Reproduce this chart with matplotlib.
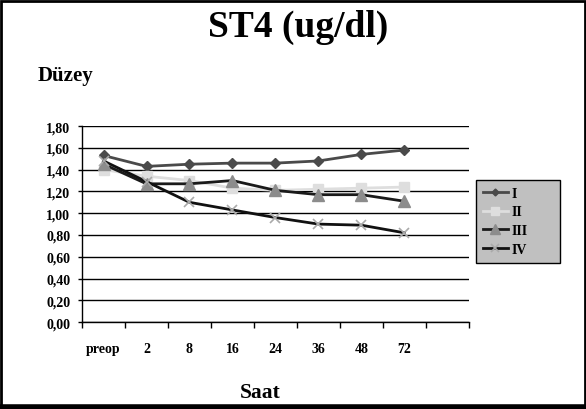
"""ST4 (ug/dl) line chart."""

import matplotlib
from matplotlib import pyplot as plt
from matplotlib.lines import Line2D
from matplotlib.patches import Rectangle

matplotlib.use("Agg")
plt.rcParams["font.family"] = ["Liberation Serif", "DejaVu Serif"]
plt.rcParams["font.weight"] = "bold"

hours = ["preop", "2", "8", "16", "24", "36", "48", "72"]
series_names = ["I", "II", "III", "IV"]
group_i = [1.53, 1.43, 1.45, 1.46, 1.46, 1.48, 1.54, 1.58]
group_ii = [1.40, 1.34, 1.30, 1.23, 1.21, 1.22, 1.23, 1.24]
group_iii = [1.45, 1.27, 1.27, 1.30, 1.21, 1.17, 1.17, 1.11]
group_iv = [1.48, 1.29, 1.10, 1.03, 0.96, 0.90, 0.89, 0.82]
y_ticks = [0.0, 0.2, 0.4, 0.6, 0.8, 1.0, 1.2, 1.4, 1.6, 1.8]

fig = plt.figure(figsize=(5.86, 4.10), dpi=100)
ax = fig.add_axes([0.140, 0.212, 0.660, 0.478])

x = list(range(len(hours)))
styles = [
    dict(color="#4a4a4a", marker="D", markersize=5, markerfacecolor="#4a4a4a",
         markeredgecolor="#4a4a4a"),
    dict(color="#dedede", marker="s", markersize=7, markerfacecolor="#dedede",
         markeredgecolor="#dedede"),
    dict(color="#1a1a1a", marker="^", markersize=8, markerfacecolor="#8c8c8c",
         markeredgecolor="#8c8c8c"),
    dict(color="#111111", marker="x", markersize=7, markeredgecolor="#aaaaaa",
         markeredgewidth=1.2),
]
for values, name, st in zip([group_i, group_ii, group_iii, group_iv], series_names, styles):
    ax.plot(x, values, linewidth=2, label=name, **st)

ax.set_xlim(-0.5, len(hours) + 0.5)
ax.set_ylim(0, 1.8)
ax.set_yticks(y_ticks)
ax.set_yticklabels([f"{v:.2f}".replace(".", ",") for v in y_ticks], fontsize=10, fontweight="bold")
ax.set_xticks(x)
ax.set_xticklabels(hours, fontsize=10, fontweight="bold")
ax.set_xticks([i - 0.5 for i in range(len(hours) + 2)], minor=True)
ax.tick_params(axis="x", which="major", length=0, pad=14)
ax.tick_params(axis="x", which="minor", length=4, width=1, direction="out")
ax.tick_params(axis="y", length=3, width=1, direction="out", pad=5.5)
ax.grid(axis="y", color="black", linewidth=1)
for side in ["top", "right"]:
    ax.spines[side].set_visible(False)
ax.spines["left"].set_linewidth(1)
ax.spines["bottom"].set_linewidth(1)

# smaller markers in the legend, like the original
handles = [Line2D([], [], linewidth=2, **{**st, "markersize": st["markersize"] - 1.5})
           for st in styles]
leg = ax.legend(handles, series_names, loc="upper left",
                bbox_to_anchor=(1.018, 0.291, 0.217, 0.434), mode="expand",
                frameon=True, fancybox=False, prop={"size": 10, "weight": "bold"},
                borderpad=0.5, labelspacing=0.4, handlelength=1.8, handletextpad=0.3,
                borderaxespad=0)
leg.get_frame().set_facecolor("#c0c0c0")
leg.get_frame().set_edgecolor("black")
leg.get_frame().set_linewidth(1)
leg.get_frame().set_alpha(1)

fig.text(0.508, 0.910, "ST4 (ug/dl)", ha="center", va="baseline", fontsize=27,
         fontweight="bold")
fig.text(0.065, 0.8025, "Düzey", ha="left", va="baseline", fontsize=15, fontweight="bold")
fig.text(0.444, 0.029, "Saat", ha="center", va="baseline", fontsize=15.5, fontweight="bold")

fig.patches.append(Rectangle((0.002, 0.006), 0.996, 0.99, transform=fig.transFigure,
                             fill=False, edgecolor="black", linewidth=2))
fig.lines.append(Line2D([0, 1], [0.006, 0.006], transform=fig.transFigure,
                        color="black", linewidth=4))

fig.savefig("out.png", dpi=100)
